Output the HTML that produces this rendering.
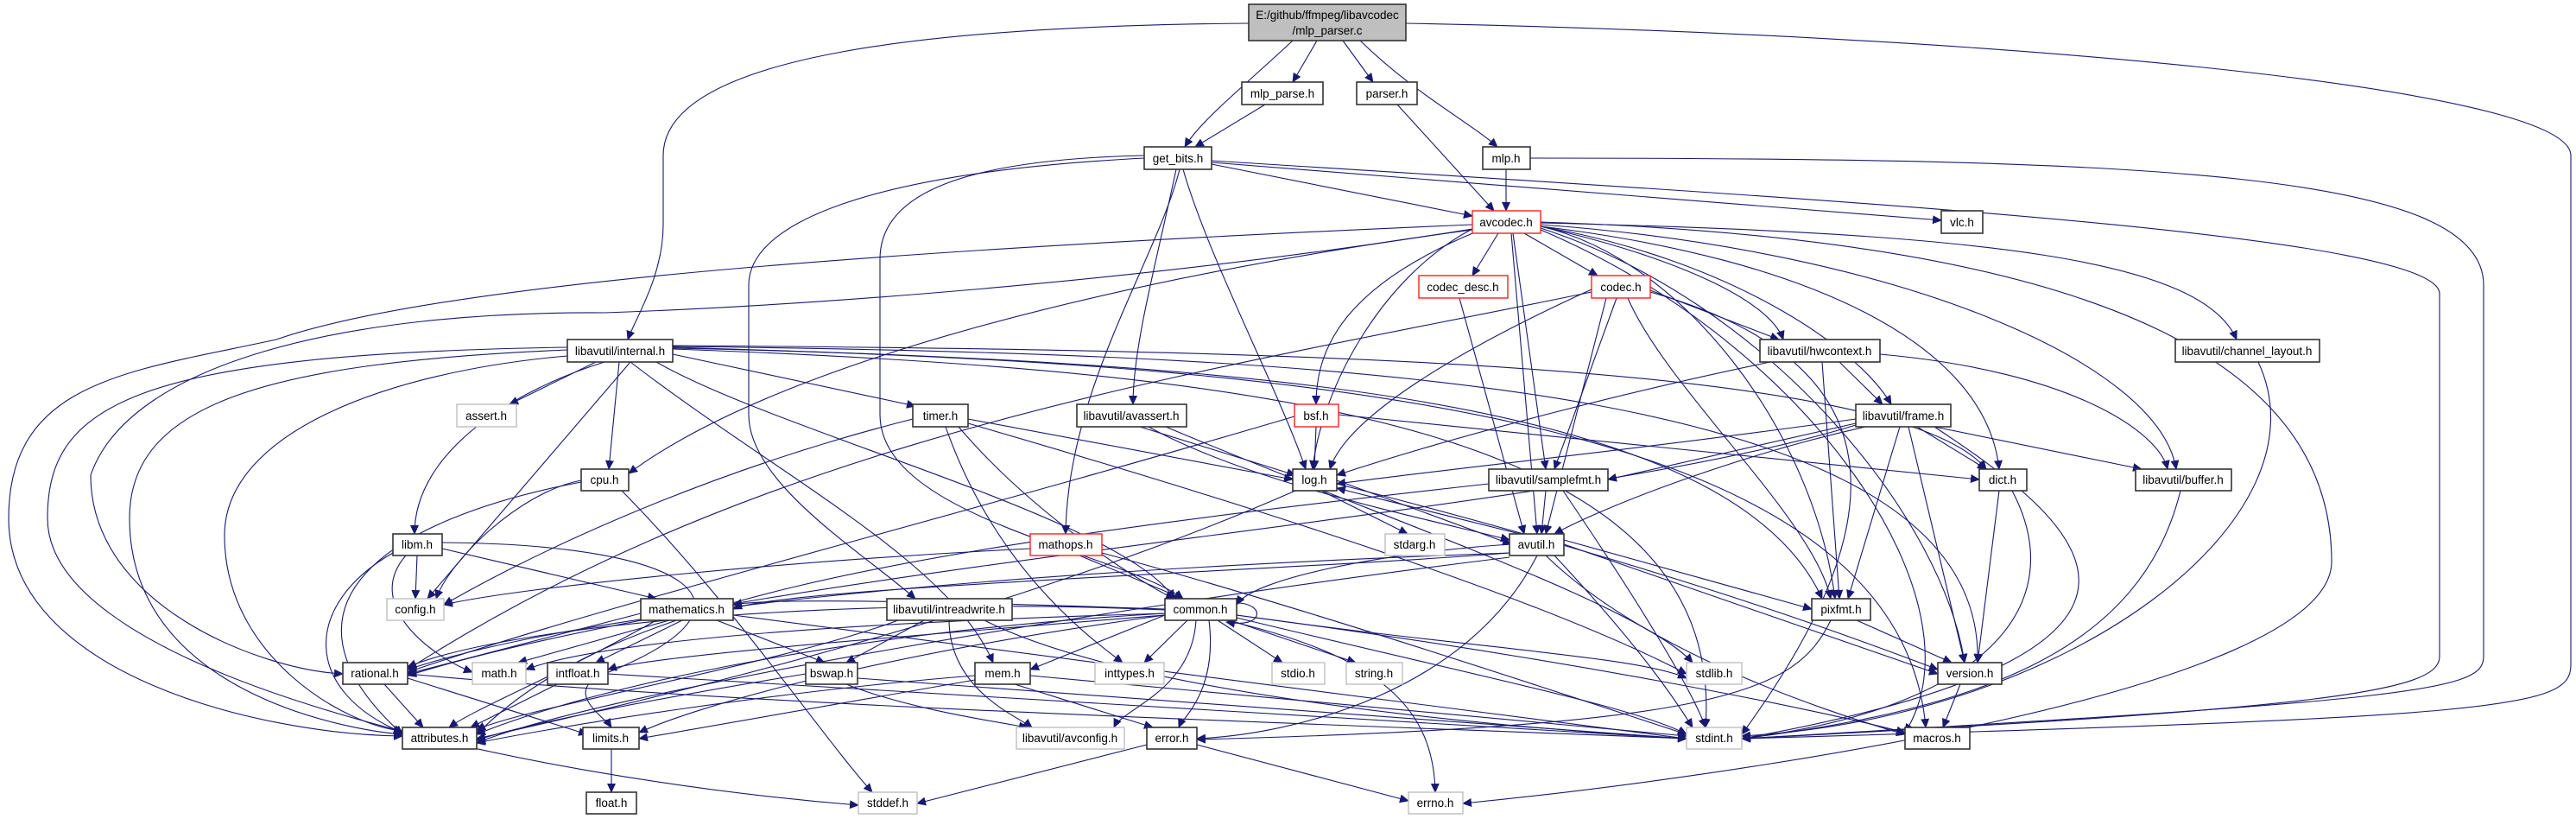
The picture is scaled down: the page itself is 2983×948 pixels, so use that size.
<!DOCTYPE html>
<html><head><meta charset="utf-8"><style>
html,body{margin:0;padding:0;background:#fff;}
svg{display:block;}
.e{fill:none;stroke:#191970;stroke-width:1.1;marker-end:url(#a);}
.n rect{fill:#fff;stroke:#333;stroke-width:1.6;}
.g rect{fill:#fff;stroke:#bfbfbf;stroke-width:1.4;}
.r rect{fill:#fff;stroke:#ff2020;stroke-width:1.4;}
text{font-family:"Liberation Sans",sans-serif;font-size:13.5px;fill:#000;text-anchor:middle;}
</style></head><body>
<svg width="2983" height="948" viewBox="0 0 2983 948" xmlns="http://www.w3.org/2000/svg">
<defs><marker id="a" markerUnits="userSpaceOnUse" markerWidth="11" markerHeight="10" refX="10" refY="5" orient="auto"><path d="M0,0 L11,5 L0,10 z" fill="#191970"/></marker></defs>
<rect width="2983" height="948" fill="#fff"/>
<g>
<path class="e" d="M1525,47 L1497,95"/>
<path class="e" d="M1555,47 L1590,95"/>
<path class="e" d="M1497,47 C1440,100 1390,140 1372,170"/>
<path class="e" d="M1575,47 C1640,110 1700,140 1734,170"/>
<path class="e" d="M1446,27 C1100,30 768,60 768,180 L768,260 C768,320 735,370 727,393"/>
<path class="e" d="M1628,27 C2300,40 2977,100 2977,180 L2977,770 C2977,820 2900,830 2017,855"/>
<path class="e" d="M1465,121 L1384,170"/>
<path class="e" d="M1618,121 L1730,244"/>
<path class="e" d="M1744,196 L1744,244"/>
<path class="e" d="M1772,183 C2500,183 2876,200 2876,330 L2876,760 C2876,800 2800,810 2017,855"/>
<path class="e" d="M1403,190 L1705,250"/>
<path class="e" d="M1403,188 L2248,255"/>
<path class="e" d="M1403,186 C2100,230 2825,270 2825,340 L2825,760 C2825,800 2700,820 2017,855"/>
<path class="e" d="M1370,196 C1400,300 1480,450 1512,543"/>
<path class="e" d="M1366,196 C1340,300 1236,450 1234,618"/>
<path class="e" d="M1362,196 C1340,300 1312,400 1312,468"/>
<path class="e" d="M1325,183 C1000,200 867,260 867,330 L867,480 C867,560 1000,640 1060,693"/>
<path class="e" d="M1325,180 C1100,185 1019,230 1019,300 L1019,480 C1019,600 1300,640 1370,693"/>
<path class="e" d="M1735,270 L1705,319"/>
<path class="e" d="M1765,270 L1850,319"/>
<path class="e" d="M1710,268 C1560,330 1524,400 1524,468"/>
<path class="e" d="M1705,265 C1600,320 1530,450 1520,543"/>
<path class="e" d="M1750,270 L1780,618"/>
<path class="e" d="M1752,270 L1790,543"/>
<path class="e" d="M1784,262 C1950,300 2100,500 2125,693"/>
<path class="e" d="M1784,262 C2100,300 2300,400 2315,543"/>
<path class="e" d="M1784,262 C2000,300 2150,400 2190,468"/>
<path class="e" d="M1784,262 C1950,300 2050,350 2065,393"/>
<path class="e" d="M1784,260 C2200,290 2500,420 2520,543"/>
<path class="e" d="M1784,258 C2300,270 2550,300 2590,393"/>
<path class="e" d="M1784,257 C2500,280 2700,450 2700,650 C2700,800 2000,900 1694,930"/>
<path class="e" d="M1784,264 C2050,350 2250,600 2275,767"/>
<path class="e" d="M1705,260 C1000,290 500,330 320,393 C150,430 10,440 10,600 C10,780 300,850 466,852"/>
<path class="e" d="M1705,265 C1300,330 900,355 700,362 C400,360 150,420 105,550 C105,700 300,775 397,780"/>
<path class="e" d="M1705,266 C1300,320 900,420 728,548"/>
<path class="e" d="M1784,266 C2100,400 2300,700 2206,848"/>
<path class="e" d="M1843,335 C1700,400 1560,480 1540,543"/>
<path class="e" d="M1860,345 L1790,618"/>
<path class="e" d="M1872,345 L1800,543"/>
<path class="e" d="M1911,336 L2060,393"/>
<path class="e" d="M1885,345 C1930,450 2100,600 2120,693"/>
<path class="e" d="M1843,338 C1400,430 900,500 472,775"/>
<path class="e" d="M1911,338 C2200,420 2200,600 2017,850"/>
<path class="e" d="M1690,345 L1765,618"/>
<path class="e" d="M2050,419 C1900,450 1700,500 1548,550"/>
<path class="e" d="M2130,419 L2180,468"/>
<path class="e" d="M2177,410 C2400,430 2500,500 2510,543"/>
<path class="e" d="M2110,419 L2130,693"/>
<path class="e" d="M2615,419 C2700,600 2400,830 2017,852"/>
<path class="e" d="M2160,494 C2000,530 1850,590 1800,618"/>
<path class="e" d="M2149,490 L1862,555"/>
<path class="e" d="M2220,494 L2300,543"/>
<path class="e" d="M2240,494 L2480,543"/>
<path class="e" d="M2200,494 L2140,693"/>
<path class="e" d="M2210,494 L2275,767"/>
<path class="e" d="M2149,485 C1900,520 1700,540 1548,560"/>
<path class="e" d="M2240,494 C2400,600 2600,750 2017,855"/>
<path class="e" d="M2149,492 C1800,600 900,650 472,782"/>
<path class="e" d="M2315,568 L2290,767"/>
<path class="e" d="M2330,568 C2400,700 2300,820 2017,855"/>
<path class="e" d="M2525,568 C2480,750 2300,820 2017,855"/>
<path class="e" d="M2150,718 L2260,767"/>
<path class="e" d="M2120,718 C2080,800 2000,840 1386,856"/>
<path class="e" d="M2270,792 L2250,842"/>
<path class="e" d="M1790,568 L1785,618"/>
<path class="e" d="M1724,560 C1000,640 700,700 552,850"/>
<path class="e" d="M1810,568 C1900,700 1960,800 1975,842"/>
<path class="e" d="M1548,556 L1750,630"/>
<path class="e" d="M1530,568 L1630,618"/>
<path class="e" d="M1500,568 C1200,700 800,800 552,855"/>
<path class="e" d="M1548,560 C1900,650 2100,720 2244,775"/>
<path class="e" d="M1760,618 L1548,565"/>
<path class="e" d="M1748,630 C1600,640 1450,670 1432,700"/>
<path class="e" d="M1811,630 L2244,780"/>
<path class="e" d="M1790,643 C1900,750 2100,820 2206,850"/>
<path class="e" d="M1811,625 L2098,705"/>
<path class="e" d="M1748,640 C1500,660 900,680 849,705"/>
<path class="e" d="M1748,640 C1200,660 700,700 472,775"/>
<path class="e" d="M1748,645 C1300,700 700,800 552,860"/>
<path class="e" d="M1800,643 C1900,750 1940,810 1960,842"/>
<path class="e" d="M1780,643 C1700,800 1500,850 1386,855"/>
<path class="e" d="M1250,643 L1370,693"/>
<path class="e" d="M1193,635 C900,650 600,680 514,700"/>
<path class="e" d="M1276,640 C1500,700 1800,800 1953,850"/>
<path class="e" d="M1349,712 L1193,775"/>
<path class="e" d="M1375,718 L1325,767"/>
<path class="e" d="M1410,718 L1485,767"/>
<path class="e" d="M1425,718 L1570,767"/>
<path class="e" d="M1432,712 C1700,750 1900,760 1953,785"/>
<path class="e" d="M1432,715 C1700,780 1900,820 1953,850"/>
<path class="e" d="M1420,718 C1600,760 1660,820 1662,917"/>
<path class="e" d="M1385,718 C1380,800 1300,820 1290,842"/>
<path class="e" d="M1400,718 C1410,800 1370,830 1365,842"/>
<path class="e" d="M1349,710 C1000,730 700,790 552,850"/>
<path class="e" d="M1349,712 C1000,760 800,820 740,848"/>
<path class="e" d="M1349,710 C1000,720 700,740 609,775"/>
<path class="e" d="M1349,712 C1000,740 750,760 704,775"/>
<path class="e" d="M1349,705 C1200,700 900,690 849,700"/>
<path class="e" d="M1349,706 C1000,690 600,720 472,772"/>
<path class="e" d="M1432,712 C1800,760 2100,820 2206,848"/>
<path class="e" d="M1432,698 C1465,698 1465,728 1420,720"/>
<path class="e" d="M1099,718 C1100,800 1180,830 1195,842"/>
<path class="e" d="M1070,718 L980,767"/>
<path class="e" d="M1040,718 C900,770 600,820 552,845"/>
<path class="e" d="M1140,718 C1300,800 1700,840 1953,855"/>
<path class="e" d="M980,792 C1050,820 1150,835 1190,842"/>
<path class="e" d="M933,780 C750,810 600,840 552,857"/>
<path class="e" d="M993,785 L1953,855"/>
<path class="e" d="M1129,782 C900,800 650,840 552,860"/>
<path class="e" d="M1175,792 L1335,842"/>
<path class="e" d="M1129,787 L740,855"/>
<path class="e" d="M1193,782 L1953,852"/>
<path class="e" d="M1386,862 L1631,927"/>
<path class="e" d="M1328,862 L1062,930"/>
<path class="e" d="M760,718 C650,780 550,820 520,842"/>
<path class="e" d="M742,710 L472,780"/>
<path class="e" d="M775,718 L600,767"/>
<path class="e" d="M790,718 L690,767"/>
<path class="e" d="M849,712 C1200,760 1700,820 1953,855"/>
<path class="e" d="M830,718 L955,767"/>
<path class="e" d="M445,792 L490,842"/>
<path class="e" d="M472,785 L680,850"/>
<path class="e" d="M472,780 C900,820 1600,840 1953,855"/>
<path class="e" d="M645,792 L545,842"/>
<path class="e" d="M704,780 C1200,810 1700,840 1953,855"/>
<path class="e" d="M708,867 L708,917"/>
<path class="e" d="M483,643 L481,693"/>
<path class="e" d="M512,635 L760,693"/>
<path class="e" d="M470,643 C420,700 500,760 547,778"/>
<path class="e" d="M455,640 C350,700 350,800 466,848"/>
<path class="e" d="M512,628 C800,630 900,700 700,780 C650,800 700,830 708,842"/>
<path class="e" d="M673,556 C600,570 520,650 505,693"/>
<path class="e" d="M673,558 C450,600 300,700 466,850"/>
<path class="e" d="M720,568 C850,700 950,850 1010,917"/>
<path class="e" d="M1121,485 L1497,555"/>
<path class="e" d="M1057,485 C800,550 600,650 514,700"/>
<path class="e" d="M1095,494 C1150,650 1250,730 1300,767"/>
<path class="e" d="M1110,494 C1200,600 1330,680 1360,693"/>
<path class="e" d="M1121,490 C1500,600 1800,700 1953,780"/>
<path class="e" d="M1320,494 L1500,550"/>
<path class="e" d="M1330,494 C1450,560 1650,600 1748,625"/>
<path class="e" d="M1350,494 C1600,600 1900,700 1960,767"/>
<path class="e" d="M690,419 L590,468"/>
<path class="e" d="M717,419 L705,543"/>
<path class="e" d="M700,419 C600,450 480,520 480,618"/>
<path class="e" d="M730,419 L495,693"/>
<path class="e" d="M779,410 L1060,470"/>
<path class="e" d="M657,405 C300,420 150,470 150,600 C150,800 400,845 466,850"/>
<path class="e" d="M657,412 C450,430 260,500 260,620 C260,760 400,840 466,846"/>
<path class="e" d="M657,402 C150,410 55,470 55,600 C55,780 600,900 994,932"/>
<path class="e" d="M779,400 C1500,405 2200,420 2300,543"/>
<path class="e" d="M779,402 C1400,420 2000,450 2110,693"/>
<path class="e" d="M779,401 C1600,410 2300,450 2290,767"/>
<path class="e" d="M779,403 C1600,420 2200,500 2230,842"/>
<path class="e" d="M730,419 C900,550 1100,650 1150,767"/>
<path class="e" d="M760,419 C900,500 1300,600 1360,693"/>
<path class="e" d="M779,404 C1500,430 2000,500 1975,842"/>
<path class="e" d="M1524,494 L1522,543"/>
<path class="e" d="M1550,480 L2292,555"/>
<path class="e" d="M1499,482 C1100,600 700,700 472,778"/>
</g>
<g class="n"><rect x="1446" y="5" width="182" height="42" style="fill:#bfbfbf"/><text x="1537" y="22">E:/github/ffmpeg/libavcodec</text><text x="1537" y="40">/mlp_parser.c</text></g>
<g class="n"><rect x="1438" y="95" width="94" height="26"/><text x="1485" y="113">mlp_parse.h</text></g>
<g class="n"><rect x="1571" y="95" width="70" height="26"/><text x="1606" y="113">parser.h</text></g>
<g class="n"><rect x="1325" y="170" width="78" height="26"/><text x="1364" y="188">get_bits.h</text></g>
<g class="n"><rect x="1717" y="170" width="55" height="26"/><text x="1744" y="188">mlp.h</text></g>
<g class="r"><rect x="1705" y="244" width="79" height="26"/><text x="1744" y="262">avcodec.h</text></g>
<g class="n"><rect x="2248" y="244" width="48" height="26"/><text x="2272" y="262">vlc.h</text></g>
<g class="r"><rect x="1643" y="319" width="103" height="26"/><text x="1694" y="337">codec_desc.h</text></g>
<g class="r"><rect x="1843" y="319" width="68" height="26"/><text x="1877" y="337">codec.h</text></g>
<g class="n"><rect x="657" y="393" width="122" height="26"/><text x="718" y="411">libavutil/internal.h</text></g>
<g class="n"><rect x="2038" y="393" width="139" height="26"/><text x="2107" y="411">libavutil/hwcontext.h</text></g>
<g class="n"><rect x="2519" y="393" width="167" height="26"/><text x="2602" y="411">libavutil/channel_layout.h</text></g>
<g class="g"><rect x="529" y="468" width="69" height="26"/><text x="563" y="486">assert.h</text></g>
<g class="n"><rect x="1057" y="468" width="64" height="26"/><text x="1089" y="486">timer.h</text></g>
<g class="n"><rect x="1247" y="468" width="127" height="26"/><text x="1310" y="486">libavutil/avassert.h</text></g>
<g class="r"><rect x="1499" y="468" width="51" height="26"/><text x="1524" y="486">bsf.h</text></g>
<g class="n"><rect x="2149" y="468" width="110" height="26"/><text x="2204" y="486">libavutil/frame.h</text></g>
<g class="n"><rect x="673" y="543" width="55" height="25"/><text x="700" y="560">cpu.h</text></g>
<g class="n"><rect x="1497" y="543" width="51" height="25"/><text x="1522" y="560">log.h</text></g>
<g class="n"><rect x="1724" y="543" width="138" height="25"/><text x="1793" y="560">libavutil/samplefmt.h</text></g>
<g class="n"><rect x="2292" y="543" width="55" height="25"/><text x="2319" y="560">dict.h</text></g>
<g class="n"><rect x="2473" y="543" width="111" height="25"/><text x="2528" y="560">libavutil/buffer.h</text></g>
<g class="n"><rect x="455" y="618" width="57" height="25"/><text x="483" y="635">libm.h</text></g>
<g class="r"><rect x="1193" y="618" width="83" height="25"/><text x="1234" y="635">mathops.h</text></g>
<g class="g"><rect x="1604" y="618" width="69" height="25"/><text x="1638" y="635">stdarg.h</text></g>
<g class="n"><rect x="1748" y="618" width="63" height="25"/><text x="1779" y="635">avutil.h</text></g>
<g class="g"><rect x="448" y="693" width="66" height="25"/><text x="481" y="710">config.h</text></g>
<g class="n"><rect x="742" y="693" width="107" height="25"/><text x="795" y="710">mathematics.h</text></g>
<g class="n"><rect x="1027" y="693" width="145" height="25"/><text x="1099" y="710">libavutil/intreadwrite.h</text></g>
<g class="n"><rect x="1349" y="693" width="83" height="25"/><text x="1390" y="710">common.h</text></g>
<g class="n"><rect x="2098" y="693" width="68" height="25"/><text x="2132" y="710">pixfmt.h</text></g>
<g class="n"><rect x="397" y="767" width="75" height="25"/><text x="434" y="784">rational.h</text></g>
<g class="g"><rect x="547" y="767" width="62" height="25"/><text x="578" y="784">math.h</text></g>
<g class="n"><rect x="634" y="767" width="70" height="25"/><text x="669" y="784">intfloat.h</text></g>
<g class="n"><rect x="933" y="767" width="60" height="25"/><text x="963" y="784">bswap.h</text></g>
<g class="n"><rect x="1129" y="767" width="64" height="25"/><text x="1161" y="784">mem.h</text></g>
<g class="g"><rect x="1268" y="767" width="80" height="25"/><text x="1308" y="784">inttypes.h</text></g>
<g class="g"><rect x="1473" y="767" width="61" height="25"/><text x="1503" y="784">stdio.h</text></g>
<g class="g"><rect x="1559" y="767" width="65" height="25"/><text x="1591" y="784">string.h</text></g>
<g class="g"><rect x="1953" y="767" width="64" height="25"/><text x="1985" y="784">stdlib.h</text></g>
<g class="n"><rect x="2244" y="767" width="74" height="25"/><text x="2281" y="784">version.h</text></g>
<g class="n"><rect x="466" y="842" width="86" height="25"/><text x="509" y="859">attributes.h</text></g>
<g class="n"><rect x="675" y="842" width="65" height="25"/><text x="707" y="859">limits.h</text></g>
<g class="g"><rect x="1177" y="842" width="125" height="25"/><text x="1239" y="859">libavutil/avconfig.h</text></g>
<g class="n"><rect x="1328" y="842" width="58" height="25"/><text x="1357" y="859">error.h</text></g>
<g class="g"><rect x="1953" y="842" width="64" height="25"/><text x="1985" y="859">stdint.h</text></g>
<g class="n"><rect x="2206" y="842" width="75" height="25"/><text x="2243" y="859">macros.h</text></g>
<g class="n"><rect x="679" y="917" width="58" height="25"/><text x="708" y="934">float.h</text></g>
<g class="g"><rect x="994" y="917" width="68" height="25"/><text x="1028" y="934">stddef.h</text></g>
<g class="g"><rect x="1631" y="917" width="63" height="25"/><text x="1662" y="934">errno.h</text></g>
</svg>
</body></html>
